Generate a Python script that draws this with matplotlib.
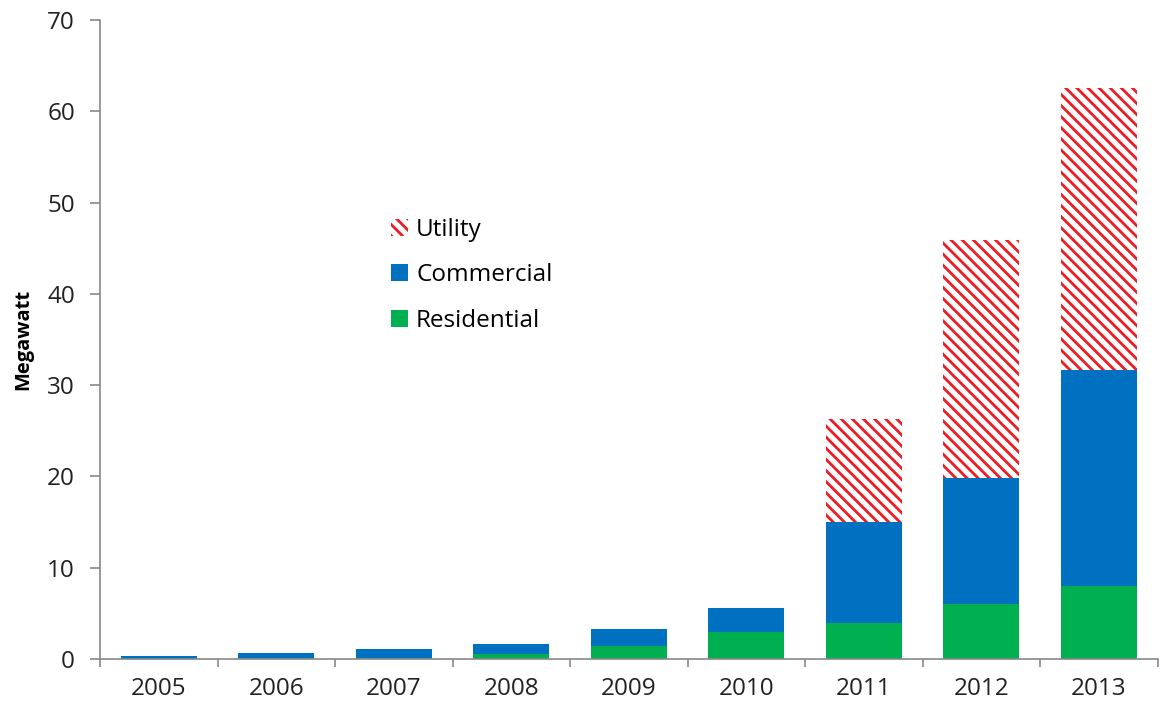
import numpy as np
import matplotlib
matplotlib.use("Agg")
import matplotlib.pyplot as plt

# Installed capacity by sector, megawatt
years = ["2005", "2006", "2007", "2008", "2009", "2010", "2011", "2012", "2013"]
residential = [0.03, 0.08, 0.15, 0.55, 1.4, 3.0, 4.0, 6.0, 8.0]
commercial = [0.32, 0.62, 0.9, 1.15, 1.85, 2.55, 11.0, 13.8, 23.7]
utility = [0, 0, 0, 0, 0, 0, 11.3, 26.1, 30.8]

plt.rcParams["font.family"] = ["Open Sans", "DejaVu Sans"]
plt.rcParams["hatch.linewidth"] = 2.0

fig = plt.figure(figsize=(11.66, 7.13), dpi=100)
ax = fig.add_axes([0.0858, 0.0757, 0.907, 0.8963])

x = np.arange(len(years))
w = 0.645
res = np.array(residential)
com = np.array(commercial)
utl = np.array(utility)

b_res = ax.bar(x, res, w, color="#00B050", linewidth=0, label="Residential")
b_com = ax.bar(x, com, w, bottom=res, color="#0070C0", linewidth=0, label="Commercial")
b_utl = ax.bar(x, utl, w, bottom=res + com, facecolor="white", edgecolor="#ED1C24",
               hatch="\\\\\\", linewidth=0, label="Utility")

ax.set_xlim(-0.5, 8.5)
ax.set_ylim(0, 70)
ax.set_yticks(np.arange(0, 71, 10))
ax.set_xticks(x)
ax.set_xticklabels(years)
ax.set_xticks(np.arange(-0.5, 9, 1), minor=True)
ax.tick_params(axis="x", which="major", length=0, labelsize=17.5, pad=13, colors="#222222")
ax.tick_params(axis="x", which="minor", length=6, width=1.2, color="#888888", direction="out")
ax.tick_params(axis="y", length=7, width=1.2, color="#888888", labelsize=17.5, pad=11,
               labelcolor="#222222")

for side in ["top", "right"]:
    ax.spines[side].set_visible(False)
for side in ["left", "bottom"]:
    ax.spines[side].set_color("#888888")
    ax.spines[side].set_linewidth(1.2)

ax.set_ylabel("Megawatt", fontsize=14.5, fontweight="bold", labelpad=10)

leg = ax.legend(handles=[b_utl, b_com, b_res], loc="upper left",
                bbox_to_anchor=(0.254, 0.725), frameon=False, fontsize=17.5,
                handlelength=0.7, handleheight=0.7, handletextpad=0.35,
                labelspacing=0.9)

fig.savefig("out.png", dpi=100)
